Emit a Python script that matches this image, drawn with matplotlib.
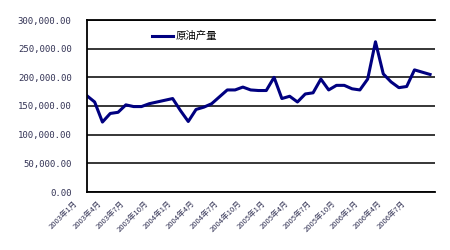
import matplotlib.pyplot as plt
import matplotlib.transforms as mtransforms
import numpy as np

# 月度原油产量
years = [2003] * 12 + [2004] * 12 + [2005] * 12 + [2006] * 9
months = list(range(1, 13)) * 3 + list(range(1, 10))
output = [168000, 157000, 122000, 137000, 139000, 152000, 149000, 149000, 154000,
          157000, 160000, 163000, 142000, 123000, 144000, 148000, 154000, 166000,
          178000, 178000, 183000, 178000, 177000, 177000, 200000, 163000, 167000,
          157000, 171000, 173000, 197000, 178000, 186000, 186000, 180000, 178000,
          197000, 262000, 206000, 192000, 182000, 184000, 213000, 209000, 205000]
labels = [f"{y}年{m}月" for y, m in zip(years, months)]
series_name = "原油产量"
y_ticks = [0, 50000, 100000, 150000, 200000, 250000, 300000]

plt.rcParams['font.family'] = ['Noto Sans CJK SC', 'DejaVu Sans']

fig = plt.figure(figsize=(4.5, 2.5), dpi=100)
ax = fig.add_axes([0.193, 0.232, 0.774, 0.688])

x = np.arange(len(output))
ax.plot(x, output, color='#000080', linewidth=2.2, label=series_name)

ax.set_ylim(0, 300000)
ax.set_xlim(0, len(output) - 0.35)
ax.set_yticks(y_ticks)
ax.set_yticklabels([f"{v:,.2f}" for v in y_ticks], fontsize=6.5,
                   family='DejaVu Sans Mono', color='#333355')
ax.yaxis.grid(True, color='black', linewidth=1.1)
ax.set_axisbelow(True)

# 每三个月一个标签，整体左移一点
ax.set_xticks([])
offset = mtransforms.ScaledTranslation(-13 / 100, -7 / 100, fig.dpi_scale_trans)
trans = ax.get_xaxis_transform() + offset
for i in x[::3]:
    ax.text(i, 0, labels[i], rotation=45, ha='right', va='top',
            rotation_mode='anchor', fontsize=5.5, color='#333355',
            transform=trans)

ax.tick_params(axis='both', length=0)
ax.tick_params(axis='y', pad=11)

for s in ['left', 'bottom', 'top']:
    ax.spines[s].set_color('black')
    ax.spines[s].set_linewidth(1.3)
ax.spines['right'].set_visible(False)

ax.legend(loc='upper left', bbox_to_anchor=(0.16, 0.99), frameon=False,
          fontsize=7.5, handlelength=2.0, handletextpad=0.3)

fig.savefig('out.png', dpi=100)
